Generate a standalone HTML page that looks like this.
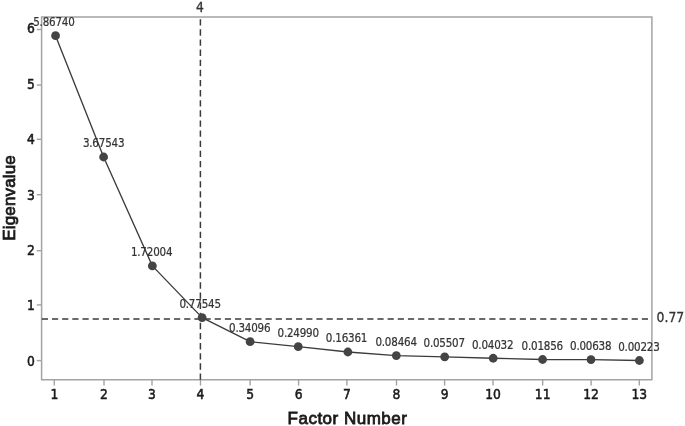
<!DOCTYPE html>
<html><head><meta charset="utf-8"><style>
html,body{margin:0;padding:0;background:#fff;}
body{width:685px;height:426px;overflow:hidden;}
svg{display:block;}
text{font-family:"Liberation Sans",sans-serif;}
.lb{font-family:"DejaVu Sans Condensed",sans-serif;}
.tk,.rl{font-family:"DejaVu Sans Condensed",sans-serif;}
.ti{font-family:"Liberation Sans",sans-serif;}
.tk{font-size:13.7px;fill:#1a1a1a;stroke:#1a1a1a;stroke-width:0.5px;}
.rl{font-size:13.7px;fill:#333;stroke:#333;stroke-width:0.3px;}
.lb{font-size:11.5px;fill:#333333;letter-spacing:-0.2px;stroke:#333333;stroke-width:0.2px;}
.ti{font-size:17px;fill:#1a1a1a;stroke:#1a1a1a;stroke-width:0.8px;}
</style></head><body>
<svg width="685" height="426" viewBox="0 0 685 426">
<rect width="685" height="426" fill="#fff"/>
<rect x="41.6" y="17.0" width="610.30" height="362.75" fill="none" stroke="#a3a3a3" stroke-width="1.5"/>
<line x1="36.80" y1="360.60" x2="41.60" y2="360.60" stroke="#a3a3a3" stroke-width="1.4"/>
<line x1="36.80" y1="304.90" x2="41.60" y2="304.90" stroke="#a3a3a3" stroke-width="1.4"/>
<line x1="36.80" y1="250.70" x2="41.60" y2="250.70" stroke="#a3a3a3" stroke-width="1.4"/>
<line x1="36.80" y1="194.70" x2="41.60" y2="194.70" stroke="#a3a3a3" stroke-width="1.4"/>
<line x1="36.80" y1="139.30" x2="41.60" y2="139.30" stroke="#a3a3a3" stroke-width="1.4"/>
<line x1="36.80" y1="85.10" x2="41.60" y2="85.10" stroke="#a3a3a3" stroke-width="1.4"/>
<line x1="36.80" y1="29.50" x2="41.60" y2="29.50" stroke="#a3a3a3" stroke-width="1.4"/>
<line x1="54.30" y1="379.75" x2="54.30" y2="385.55" stroke="#a3a3a3" stroke-width="1.4"/>
<line x1="104.00" y1="379.75" x2="104.00" y2="385.55" stroke="#a3a3a3" stroke-width="1.4"/>
<line x1="152.00" y1="379.75" x2="152.00" y2="385.55" stroke="#a3a3a3" stroke-width="1.4"/>
<line x1="200.50" y1="379.75" x2="200.50" y2="385.55" stroke="#a3a3a3" stroke-width="1.4"/>
<line x1="250.10" y1="379.75" x2="250.10" y2="385.55" stroke="#a3a3a3" stroke-width="1.4"/>
<line x1="298.60" y1="379.75" x2="298.60" y2="385.55" stroke="#a3a3a3" stroke-width="1.4"/>
<line x1="346.90" y1="379.75" x2="346.90" y2="385.55" stroke="#a3a3a3" stroke-width="1.4"/>
<line x1="396.50" y1="379.75" x2="396.50" y2="385.55" stroke="#a3a3a3" stroke-width="1.4"/>
<line x1="444.60" y1="379.75" x2="444.60" y2="385.55" stroke="#a3a3a3" stroke-width="1.4"/>
<line x1="493.05" y1="379.75" x2="493.05" y2="385.55" stroke="#a3a3a3" stroke-width="1.4"/>
<line x1="542.65" y1="379.75" x2="542.65" y2="385.55" stroke="#a3a3a3" stroke-width="1.4"/>
<line x1="591.10" y1="379.75" x2="591.10" y2="385.55" stroke="#a3a3a3" stroke-width="1.4"/>
<line x1="639.30" y1="379.75" x2="639.30" y2="385.55" stroke="#a3a3a3" stroke-width="1.4"/>
<line x1="41.8" y1="318.9" x2="650.5" y2="318.9" stroke="#3a3a3a" stroke-width="1.5" stroke-dasharray="6.2 3.97"/>
<line x1="200.4" y1="379.75" x2="200.4" y2="18.0" stroke="#3a3a3a" stroke-width="1.5" stroke-dasharray="6.3 3.82"/>
<polyline points="55.55,35.65 103.60,157.00 152.35,265.90 202.10,317.60 250.10,341.70 298.24,346.70 347.90,352.00 396.30,355.60 444.70,356.80 493.20,358.25 542.60,359.50 591.00,359.60 639.40,360.50" fill="none" stroke="#3c3c3c" stroke-width="1.35" stroke-linejoin="round"/>
<circle cx="55.55" cy="35.65" r="4.4" fill="#444444"/>
<circle cx="103.60" cy="157.00" r="4.4" fill="#444444"/>
<circle cx="152.35" cy="265.90" r="4.4" fill="#444444"/>
<circle cx="202.10" cy="317.60" r="4.4" fill="#444444"/>
<circle cx="250.10" cy="341.70" r="4.4" fill="#444444"/>
<circle cx="298.24" cy="346.70" r="4.4" fill="#444444"/>
<circle cx="347.90" cy="352.00" r="4.4" fill="#444444"/>
<circle cx="396.30" cy="355.60" r="4.4" fill="#444444"/>
<circle cx="444.70" cy="356.80" r="4.4" fill="#444444"/>
<circle cx="493.20" cy="358.25" r="4.4" fill="#444444"/>
<circle cx="542.60" cy="359.50" r="4.4" fill="#444444"/>
<circle cx="591.00" cy="359.60" r="4.4" fill="#444444"/>
<circle cx="639.40" cy="360.50" r="4.4" fill="#444444"/>
<text class="tk" x="34.8" y="365.60" text-anchor="end">0</text>
<text class="tk" x="34.8" y="310.10" text-anchor="end">1</text>
<text class="tk" x="34.8" y="254.70" text-anchor="end">2</text>
<text class="tk" x="34.8" y="200.10" text-anchor="end">3</text>
<text class="tk" x="34.8" y="144.30" text-anchor="end">4</text>
<text class="tk" x="34.8" y="88.75" text-anchor="end">5</text>
<text class="tk" x="34.8" y="32.70" text-anchor="end">6</text>
<text class="tk" x="54.30" y="398.5" text-anchor="middle">1</text>
<text class="tk" x="104.00" y="398.5" text-anchor="middle">2</text>
<text class="tk" x="152.00" y="398.5" text-anchor="middle">3</text>
<text class="tk" x="200.50" y="398.5" text-anchor="middle">4</text>
<text class="tk" x="250.10" y="398.5" text-anchor="middle">5</text>
<text class="tk" x="298.60" y="398.5" text-anchor="middle">6</text>
<text class="tk" x="346.90" y="398.5" text-anchor="middle">7</text>
<text class="tk" x="396.50" y="398.5" text-anchor="middle">8</text>
<text class="tk" x="444.60" y="398.5" text-anchor="middle">9</text>
<text class="tk" x="493.05" y="398.5" text-anchor="middle">10</text>
<text class="tk" x="542.65" y="398.5" text-anchor="middle">11</text>
<text class="tk" x="591.10" y="398.5" text-anchor="middle">12</text>
<text class="tk" x="639.30" y="398.5" text-anchor="middle">13</text>
<text class="rl" x="200.0" y="11.6" text-anchor="middle">4</text>
<text class="rl" x="656.6" y="322.1" style="font-size:13.8px">0.77</text>
<text class="lb" x="53.90" y="26.05" text-anchor="middle">5.86740</text>
<text class="lb" x="103.60" y="147.40" text-anchor="middle">3.67543</text>
<text class="lb" x="151.60" y="256.30" text-anchor="middle">1.72004</text>
<text class="lb" x="200.10" y="308.00" text-anchor="middle">0.77545</text>
<text class="lb" x="249.70" y="332.10" text-anchor="middle">0.34096</text>
<text class="lb" x="298.20" y="337.10" text-anchor="middle">0.24990</text>
<text class="lb" x="346.50" y="342.40" text-anchor="middle">0.16361</text>
<text class="lb" x="396.10" y="346.00" text-anchor="middle">0.08464</text>
<text class="lb" x="444.20" y="347.20" text-anchor="middle">0.05507</text>
<text class="lb" x="492.65" y="348.65" text-anchor="middle">0.04032</text>
<text class="lb" x="542.25" y="349.90" text-anchor="middle">0.01856</text>
<text class="lb" x="590.70" y="350.00" text-anchor="middle">0.00638</text>
<text class="lb" x="638.90" y="350.90" text-anchor="middle">0.00223</text>
<text class="ti" x="347.5" y="424" text-anchor="middle" style="letter-spacing:0.5px">Factor Number</text>
<text class="ti" transform="translate(14.8,197.9) rotate(-90)" x="0" y="0" text-anchor="middle" style="letter-spacing:0.15px">Eigenvalue</text>
</svg>
</body></html>
